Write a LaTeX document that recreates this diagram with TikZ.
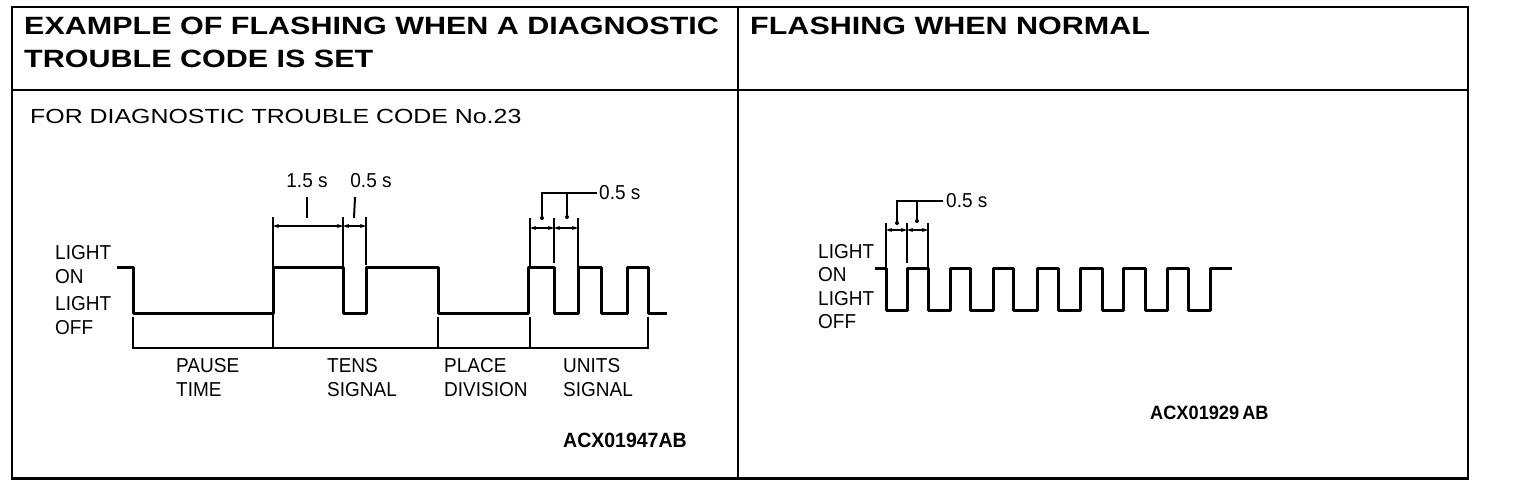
\documentclass[tikz,border=0pt]{standalone}
\usepackage{fontspec}
\setmainfont{Liberation Sans}
\usetikzlibrary{arrows.meta}
\tikzset{
  frame/.style={line width=2.2pt},
  sig/.style={line width=3pt, line join=round},
  ext/.style={line width=2pt},
  dimln/.style={line width=1.5pt, {Stealth[length=6pt,width=4pt]}-{Stealth[length=6pt,width=4pt]}},
  lead/.style={line width=2pt},
  hdr/.style={anchor=west, inner sep=0pt, font=\fontsize{30.5}{34}\selectfont\bfseries},
  lbl/.style={anchor=west, inner sep=0pt, font=\fontsize{19}{22}\selectfont},
  sub/.style={anchor=west, inner sep=0pt, font=\fontsize{24.9}{28}\selectfont},
  code/.style={anchor=west, inner sep=0pt, font=\fontsize{19.5}{22}\selectfont\bfseries},
  codeb/.style={anchor=west, inner sep=0pt, font=\fontsize{18.2}{22}\selectfont\bfseries},
  dotc/.style={circle, fill, inner sep=0pt, minimum size=4pt}
}
\newcommand{\hsq}[1]{\scalebox{1}[0.82]{#1}}
\newcommand{\lsq}[1]{\scalebox{1}[1.06]{#1}}
\begin{document}
\begin{tikzpicture}[x=1pt, y=-1pt]
\useasboundingbox (0,0) rectangle (1520,484);
% frame
\draw[frame] (12,7) rectangle (1468,478);
\draw[line width=3pt] (11,478) -- (1469,478);
\draw[frame] (12,90) -- (1468,90);
\draw[frame] (738,7) -- (738,478);
% headers
\node[hdr] (h1) at (24,26) {\hsq{EXAMPLE OF FLASHING WHEN A DIAGNOSTIC}};
\node[hdr] (h2) at (24,59) {\hsq{TROUBLE CODE IS SET}};
\node[hdr] (h3) at (750,26) {\hsq{FLASHING WHEN NORMAL}};
\node[sub] (s1) at (30,116) {\hsq{FOR DIAGNOSTIC TROUBLE CODE No.23}};
% left labels
\node[lbl] (l1) at (55,253) {\lsq{LIGHT}};
\node[lbl] (l2) at (55,277) {\lsq{ON}};
\node[lbl] (l3) at (55,304) {\lsq{LIGHT}};
\node[lbl] (l4) at (55,328) {\lsq{OFF}};
% left signal
\draw[sig] (117,267) -- (133,267) -- (133,313) -- (273,313) -- (273,267) -- (343,267)
  -- (343,313) -- (366,313) -- (366,267) -- (438,267) -- (438,313) -- (528,313)
  -- (528,267) -- (554,267) -- (554,313) -- (578,313) -- (578,267) -- (601,267)
  -- (601,313) -- (627,313) -- (627,267) -- (648,267) -- (648,313) -- (667,313);
% bottom brackets
\draw[ext] (133,317) -- (133,348) -- (648,348) -- (648,317);
\draw[ext] (273,313) -- (273,348);
\draw[ext] (438,317) -- (438,348);
\draw[ext] (530,317) -- (530,348);
\node[lbl] (p1) at (176,366) {\lsq{PAUSE}};
\node[lbl] (p2) at (176,390) {\lsq{TIME}};
\node[lbl] (t1) at (327,366) {\lsq{TENS}};
\node[lbl] (t2) at (327,390) {\lsq{SIGNAL}};
\node[lbl] (d1) at (444,366) {\lsq{PLACE}};
\node[lbl] (d2) at (444,390) {\lsq{DIVISION}};
\node[lbl] (u1) at (563,366) {\lsq{UNITS}};
\node[lbl] (u2) at (563,390) {\lsq{SIGNAL}};
% tens dimension
\draw[ext] (273,217) -- (273,267);
\draw[ext] (343,217) -- (343,267);
\draw[ext] (366,217) -- (366,265);
\draw[dimln] (273,226) -- (343,226);
\draw[dimln] (343,226) -- (366,226);
\draw[lead] (307,197) -- (307,218);
\draw[lead] (355,197) -- (354,218);
\node[lbl, anchor=center] (a1) at (307,181) {\lsq{1.5 s}};
\node[lbl, anchor=center] (a2) at (371,181) {\lsq{0.5 s}};
% units dimension
\draw[ext] (530,218) -- (530,267);
\draw[ext] (554,218) -- (554,263);
\draw[ext] (578,218) -- (578,267);
\draw[dimln] (530,228) -- (554,228);
\draw[dimln] (554,228) -- (578,228);
\draw[lead] (542,218) -- (542,193) -- (597,193);
\draw[lead] (567,217) -- (567,193);
\node[dotc] at (542,218) {};
\node[dotc] at (567,217) {};
\node[lbl] (a3) at (599,193) {\lsq{0.5 s}};
\node[code] (c1) at (563,440) {\lsq{ACX01947AB}};
% right labels
\node[lbl] (r1) at (818,252) {\lsq{LIGHT}};
\node[lbl] (r2) at (818,275) {\lsq{ON}};
\node[lbl] (r3) at (818,299) {\lsq{LIGHT}};
\node[lbl] (r4) at (818,322) {\lsq{OFF}};
% right signal
\draw[sig] (875,268) -- (886,268) -- (886,310) -- (907,310) -- (907,268)
  -- (928,268) -- (928,310) -- (950,310) -- (950,268)
  -- (970,268) -- (970,310) -- (993,310) -- (993,268)
  -- (1013,268) -- (1013,310) -- (1037,310) -- (1037,268)
  -- (1058,268) -- (1058,310) -- (1080,310) -- (1080,268)
  -- (1102,268) -- (1102,310) -- (1123,310) -- (1123,268)
  -- (1145,268) -- (1145,310) -- (1167,310) -- (1167,268)
  -- (1188,268) -- (1188,310) -- (1210,310) -- (1210,268) -- (1232,268);
% right dimension
\draw[ext] (886,223) -- (886,268);
\draw[ext] (907,223) -- (907,263);
\draw[ext] (928,223) -- (928,268);
\draw[dimln] (886,230) -- (907,230);
\draw[dimln] (907,230) -- (928,230);
\draw[lead] (897,223) -- (897,201) -- (943,201);
\draw[lead] (917,221) -- (917,201);
\node[dotc] at (897,223) {};
\node[dotc] at (917,221) {};
\node[lbl] (a4) at (946,201) {\lsq{0.5 s}};
\node[codeb] (c2) at (1150,413) {\lsq{ACX01929\,AB}};
\end{tikzpicture}
\end{document}
